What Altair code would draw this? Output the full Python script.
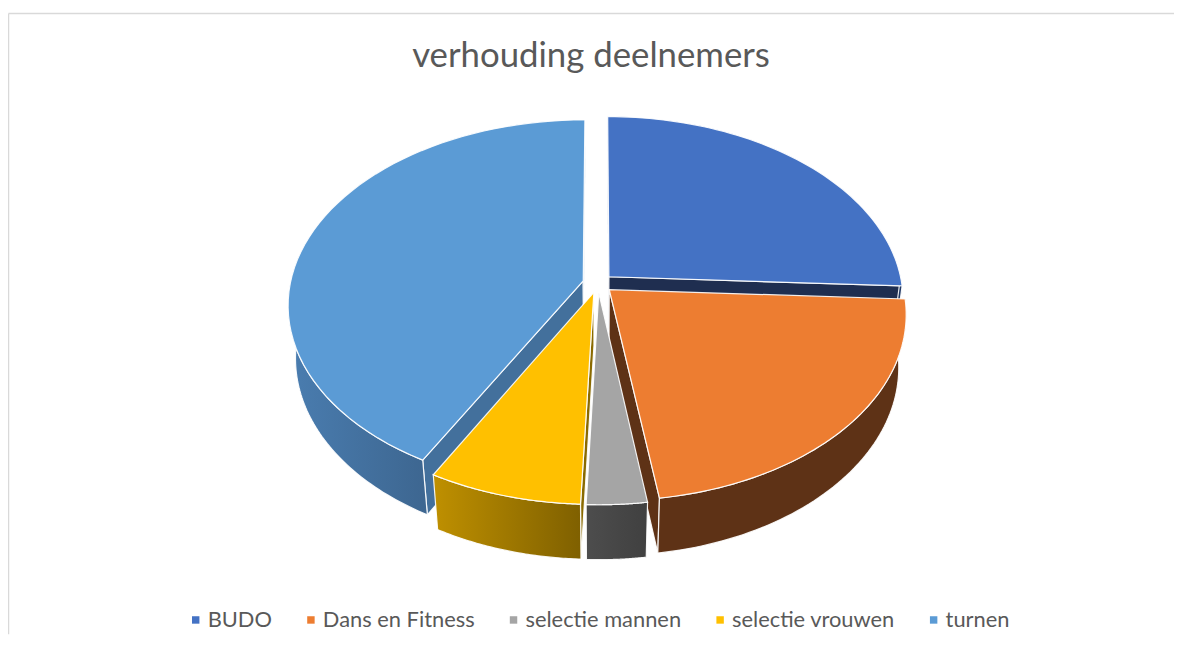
import altair as alt
import pandas as pd

# ---- data ----
categories = ["BUDO", "Dans en Fitness", "selectie mannen", "selectie vrouwen", "turnen"]
values = [25.8, 21.9, 2.9, 7.4, 42.0]
top_colors = ["#4472C4", "#ED7D31", "#A5A5A5", "#FFC000", "#5B9BD5"]
wall_left = ["#203864", "#5E3216", "#4D4D4D", "#BF9000", "#4A7DB0"]
wall_right = ["#203864", "#5E3216", "#404040", "#7F6000", "#3D6690"]
radial_colors = ["#1F2E50", "#5E3216", "#505050", "#8A6A00", "#43709C"]
draw_order = ["BUDO", "turnen", "Dans en Fitness", "selectie vrouwen", "selectie mannen"]

df = pd.DataFrame({"category": categories, "value": values, "idx": list(range(len(categories)))})

# ---- 3D view parameters (style) ----
CX, CY = 602, 283          # projected pie centre (px)
F, D = 1805.0, 6.12        # focal length, camera distance (radius units)
CE, SE = 0.783, 0.622      # cos / sin of elevation
H = 0.2364                 # thickness
EX = 0.052                 # explosion
N = 60                     # arc resolution


def sx(X, Y, Z):
    return f"{CX} + {F}*({X})/({D} + ({Y})*{CE} - ({Z})*{SE})"


def sy(X, Y, Z):
    return f"{CY} - {F}*(({Y})*{SE} + ({Z})*{CE})/({D} + ({Y})*{CE} - ({Z})*{SE})"


xs = alt.Scale(domain=[8, 1182], nice=False, zero=False)
ys = alt.Scale(domain=[11, 636], reverse=True, nice=False, zero=False)
xaxis = alt.Axis(orient="top", domain=True, domainColor="#D9D9D9", domainWidth=1.5,
                 ticks=False, labels=False, grid=False, title=None)
yaxis = alt.Axis(orient="left", domain=True, domainColor="#D9D9D9", domainWidth=1.5,
                 ticks=False, labels=False, grid=False, title=None)

fill_scale = alt.Scale(domain=categories, range=top_colors)
legend = alt.Legend(title=None, orient="none", legendX=178, legendY=600, direction="horizontal",
                    symbolType="square", symbolSize=56, symbolStrokeWidth=0,
                    labelFont="Lato", labelFontSize=22, labelColor="#595959", labelLimit=400,
                    labelOffset=1, columnPadding=28, padding=0)

base = (
    alt.Chart(df)
    .transform_joinaggregate(total="sum(value)")
    .transform_window(cum="sum(value)", sort=[alt.SortField("idx")], frame=[None, 0])
    .transform_calculate(a0="2*PI*(datum.cum - datum.value)/datum.total")
    .transform_calculate(a1="2*PI*datum.cum/datum.total")
    .transform_calculate(am="(datum.a0 + datum.a1)/2")
    .transform_calculate(ox=f"{EX}*sin(datum.am)")
    .transform_calculate(oy=f"{EX}*cos(datum.am)")
)

line_kw = dict(interpolate="linear-closed", stroke="white", strokeWidth=1.2, strokeOpacity=0.9)


def grad(c1, c2):
    return alt.LinearGradient(gradient="linear", x1=0, x2=1, y1=0, y2=0,
                              stops=[alt.GradientStop(color=c1, offset=0),
                                     alt.GradientStop(color=c2, offset=1)])


def pos_enc(order_field):
    return dict(
        x=alt.X("px:Q", scale=xs, axis=xaxis),
        y=alt.Y("py:Q", scale=ys, axis=yaxis),
        order=alt.Order(f"{order_field}:Q"),
    )


layers = []
for cat in draw_order:
    i = categories.index(cat)
    sl = base.transform_filter(alt.datum.category == cat)

    # radial (cut) faces
    radial = (
        sl.transform_calculate(k="sequence(0, 8)")
        .transform_flatten(["k"])
        .transform_calculate(e="floor(datum.k/4)")
        .transform_calculate(j="datum.k % 4")
        .transform_calculate(a="datum.e == 0 ? datum.a0 : datum.a1")
        .transform_calculate(nx="datum.e == 0 ? -cos(datum.a0) : cos(datum.a1)")
        .transform_calculate(ny="datum.e == 0 ? sin(datum.a0) : -sin(datum.a1)")
        .transform_calculate(vis=f"datum.nx*(-datum.ox) + datum.ny*(-{D}*{CE} - datum.oy)")
        .transform_filter("datum.vis > 0")
        .transform_calculate(r="(datum.j == 1 || datum.j == 2) ? 1 : 0")
        .transform_calculate(Z=f"datum.j >= 2 ? -{H} : 0")
        .transform_calculate(X="datum.ox + datum.r*sin(datum.a)")
        .transform_calculate(Y="datum.oy + datum.r*cos(datum.a)")
        .transform_calculate(px=sx("datum.X", "datum.Y", "datum.Z"))
        .transform_calculate(py=sy("datum.X", "datum.Y", "datum.Z"))
        .mark_line(fill=radial_colors[i], **line_kw)
        .encode(detail="e:N", **pos_enc("j"))
    )

    # outer wall (front half only)
    wall = (
        sl.transform_calculate(b0="max(datum.a0, PI/2)")
        .transform_calculate(b1="min(datum.a1, 3*PI/2)")
        .transform_filter("datum.b1 > datum.b0 + 0.0001")
        .transform_calculate(k=f"sequence(0, {2 * N + 2})")
        .transform_flatten(["k"])
        .transform_calculate(
            t=f"datum.k <= {N} ? datum.b0 + (datum.b1 - datum.b0)*datum.k/{N}"
              f" : datum.b1 - (datum.b1 - datum.b0)*(datum.k - {N} - 1)/{N}")
        .transform_calculate(Z=f"datum.k <= {N} ? 0 : -{H}")
        .transform_calculate(X="datum.ox + sin(datum.t)")
        .transform_calculate(Y="datum.oy + cos(datum.t)")
        .transform_calculate(px=sx("datum.X", "datum.Y", "datum.Z"))
        .transform_calculate(py=sy("datum.X", "datum.Y", "datum.Z"))
        .mark_line(fill=grad(wall_left[i], wall_right[i]), **line_kw)
        .encode(**pos_enc("k"))
    )

    # top face
    top = (
        sl.transform_calculate(k=f"sequence(0, {N + 2})")
        .transform_flatten(["k"])
        .transform_calculate(t=f"datum.a0 + (datum.a1 - datum.a0)*max(datum.k - 1, 0)/{N}")
        .transform_calculate(r="datum.k == 0 ? 0 : 1")
        .transform_calculate(X="datum.ox + datum.r*sin(datum.t)")
        .transform_calculate(Y="datum.oy + datum.r*cos(datum.t)")
        .transform_calculate(px=sx("datum.X", "datum.Y", "0"))
        .transform_calculate(py=sy("datum.X", "datum.Y", "0"))
        .mark_line(**line_kw)
        .encode(fill=alt.Fill("category:N", scale=fill_scale, legend=legend), **pos_enc("k"))
    )
    layers += [radial, wall, top]

chart = (
    alt.layer(*layers)
    .properties(
        width=1174, height=625,
        padding={"left": 0, "top": 3, "right": 0, "bottom": 0},
        autosize=alt.AutoSizeParams(type="none"),
        title=alt.TitleParams("verhouding deelnemers", font="Lato", fontSize=35,
                              fontWeight="normal", color="#595959", anchor="middle",
                              baseline="alphabetic", offset=-89),
        background="white",
    )
    .configure_view(stroke=None)
)

chart.save("out.html", embed_options={"renderer": "svg", "actions": False})
